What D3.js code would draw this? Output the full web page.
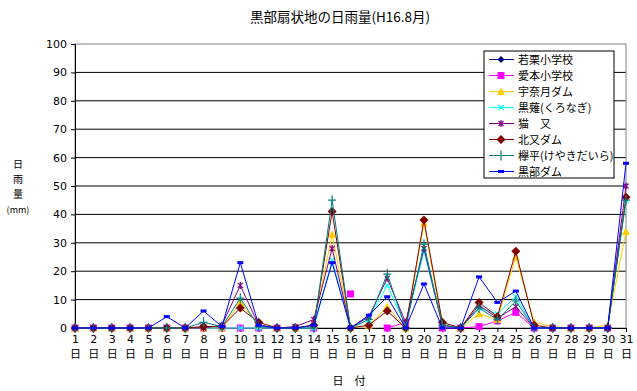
<!DOCTYPE html>
<html>
<head>
<meta charset="utf-8">
<script src="https://cdn.jsdelivr.net/npm/d3@7"></script>
<style>
  body { margin: 0; background: #fff; }
  text { font-family: "Noto Sans CJK JP", sans-serif; fill: #000; }
</style>
</head>
<body>
<div id="chart"></div>
<script>
const days = d3.range(1, 32);
const yTicks = [0, 10, 20, 30, 40, 50, 60, 70, 80, 90, 100];

const wakaguri = [0,0,0,0,0,0,0,0,0,null,null,null,null,null,null,null,null,null,null,null,null,null,null,null,null,null,null,null,null,null,null];
const aimoto   = [0,0,0,0,0,0,0,0,0,0,0,0,0,0,null,12,null,0,2,null,0,0,0.5,2.5,5.5,0,0,0,0,0,null];
const unazuki  = [0,0,0,0,0,0,0,0,0,9,1,0,0,1,33,0,1,7.5,0,37,1,0,5,3,25,2,0.5,0,0,1,34];
const kuronagi = [0,0,0,0,0,0,0,0,0,0,0,0,0,0,24,0,3,15,1,27,1,0,7,5,11,0,0,0,0,0,45];
const nekomata = [0,0,0,0,0,0,0,0,1,15,1,0,0.5,3,28,0,4,17.5,2,28,1,0,8,3.5,7.5,0,0,0,0,0,50];
const kitamata = [0,0,0,0,0,0,0,0.5,0.5,7,2,0,0,1,41,0,1,6,0,38,2,0,9,4,27,1,0,0,0,0,46];
const keyakidaira = [0,0,0,0,0,0,0,2,0.5,10.5,0.5,0,0,0,45,0,3,19,0,29.5,1,0,7,3,9.5,0,0,0,0,0,45];
const kurobe   = [0,0,0,0,0,4,0,6,0.5,23,1,0,0,1,23,0,4.5,11,0,15.5,0,0,18,9,13,0,0,0,0,0,58];

const seriesNames = ["若栗小学校","愛本小学校","宇奈月ダム","黒薙(くろなぎ)","猫　又","北又ダム","欅平(けやきだいら)","黒部ダム"];
const seriesValues = [wakaguri, aimoto, unazuki, kuronagi, nekomata, kitamata, keyakidaira, kurobe];
const colors = ["#000080","#ff00ff","#ffcc00","#00ffff","#800080","#800000","#008080","#0000ff"];
const shapes = ["diamond","square","triangle","x","star","bigdiamond","plus","dash"];

const W = 637, H = 391;
const margin = {top: 44, right: 11, bottom: 63, left: 75};
const pw = W - margin.left - margin.right;
const ph = H - margin.top - margin.bottom;

const svg = d3.select("#chart").append("svg")
  .attr("width", W).attr("height", H);

svg.append("text")
  .attr("x", 340).attr("y", 22)
  .attr("text-anchor", "middle")
  .style("font-size", "13.5px")
  .text("黒部扇状地の日雨量(H16.8月)");

const g = svg.append("g").attr("transform", `translate(${margin.left},${margin.top})`);

const x = d3.scalePoint().domain(days).range([0, pw]);
const y = d3.scaleLinear().domain([0, 100]).range([ph, 0]);

// gridlines
g.selectAll("line.grid").data(yTicks.slice(1, -1)).join("line")
  .attr("x1", 0).attr("x2", pw)
  .attr("y1", d => y(d)).attr("y2", d => y(d))
  .attr("stroke", "#000").attr("stroke-width", 1);

// plot area border
g.append("rect").attr("x", 0).attr("y", 0).attr("width", pw).attr("height", ph)
  .attr("fill", "none").attr("stroke", "#808080");

const yAxis = g.append("g").call(d3.axisLeft(y).tickValues(yTicks).tickSize(4).tickPadding(4));
yAxis.select(".domain").attr("stroke", "#000");
yAxis.selectAll("text").style("font-size", "11px").style("font-family", "'DejaVu Sans', sans-serif");

const xAxis = g.append("g").attr("transform", `translate(0,${ph})`)
  .call(d3.axisBottom(x).tickSize(4).tickPadding(3));
xAxis.selectAll("text").style("font-size", "11px").style("font-family", "'DejaVu Sans', sans-serif");
xAxis.selectAll(".tick").append("text")
  .attr("y", 30).attr("text-anchor", "middle")
  .style("font-size", "11px").attr("fill", "#000")
  .text("日");

svg.append("text").attr("x", 349).attr("y", 385)
  .attr("text-anchor", "middle").style("font-size", "11px").text("日　付");

["日","雨","量"].forEach((c, i) => {
  svg.append("text").attr("x", 18).attr("y", 168 + i * 15)
    .attr("text-anchor", "middle").style("font-size", "10px").text(c);
});
svg.append("text").attr("x", 18).attr("y", 213)
  .attr("text-anchor", "middle").style("font-size", "9px").text("(mm)");

function drawMarker(sel, shape, color) {
  if (shape === "diamond") sel.append("path").attr("d", "M0,-3.5L3.5,0L0,3.5L-3.5,0Z").attr("fill", color);
  else if (shape === "square") sel.append("rect").attr("x", -3.5).attr("y", -3.5).attr("width", 7).attr("height", 7).attr("fill", color);
  else if (shape === "triangle") sel.append("path").attr("d", "M0,-4L4,3.5L-4,3.5Z").attr("fill", color);
  else if (shape === "x") sel.append("path").attr("d", "M-2.5,-2.5L2.5,2.5M-2.5,2.5L2.5,-2.5").attr("stroke", color).attr("stroke-width", 1.2);
  else if (shape === "star") sel.append("path").attr("d", "M-2.5,-2.5L2.5,2.5M-2.5,2.5L2.5,-2.5M0,-3.5L0,3.5").attr("stroke", color).attr("stroke-width", 1.2);
  else if (shape === "bigdiamond") sel.append("path").attr("d", "M0,-4.5L4.5,0L0,4.5L-4.5,0Z").attr("fill", color);
  else if (shape === "plus") sel.append("path").attr("d", "M-4,0L4,0M0,-5L0,5").attr("stroke", color).attr("stroke-width", 1.2);
  else if (shape === "dash") sel.append("rect").attr("x", -3).attr("y", -1.5).attr("width", 6).attr("height", 3).attr("fill", color);
}

const line = d3.line()
  .defined(d => d.v !== null)
  .x(d => x(d.day)).y(d => y(d.v));

seriesValues.forEach((vals, si) => {
  const data = days.map((d, i) => ({day: d, v: vals[i]}));
  const sg = g.append("g");
  sg.append("path").datum(data).attr("d", line)
    .attr("fill", "none").attr("stroke", colors[si]).attr("stroke-width", 1);
  sg.selectAll("g.pt").data(data.filter(d => d.v !== null)).join("g")
    .attr("transform", d => `translate(${x(d.day)},${y(d.v)})`)
    .each(function() { drawMarker(d3.select(this), shapes[si], colors[si]); });
});

// legend
const lg = svg.append("g").attr("transform", "translate(484,51)");
lg.append("rect").attr("width", 130).attr("height", 127)
  .attr("fill", "#fff").attr("stroke", "#000");
seriesNames.forEach((name, i) => {
  const row = lg.append("g").attr("transform", `translate(0,${8.5 + i * 16})`);
  row.append("line").attr("x1", 5).attr("x2", 30).attr("stroke", colors[i]);
  drawMarker(row.append("g").attr("transform", "translate(17,0)"), shapes[i], colors[i]);
  row.append("text").attr("x", 34).attr("y", 4.5).style("font-size", "11px").text(name);
});
</script>
</body>
</html>
